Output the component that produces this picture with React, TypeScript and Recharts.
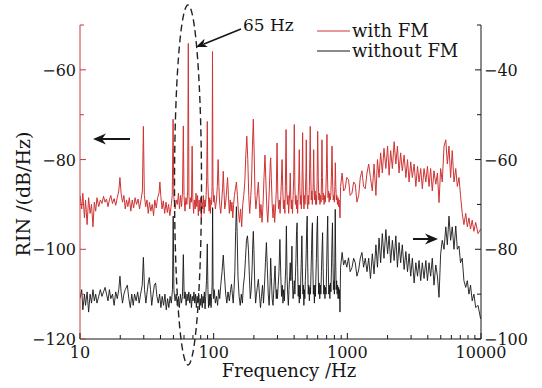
import React from 'react';
import { LineChart, Line, XAxis, YAxis } from 'recharts';

// RIN spectra: [frequency Hz, RIN]
// with FM -> left axis (dB/Hz), without FM -> right axis
const withFmSpectrum: [number, number][] = [
  [10, -88], [10.3, -91], [10.5, -87.5], [10.8, -93], [11, -89], [11.3, -94.5], [11.6, -88.5], [11.9, -92],
  [12.2, -90], [12.5, -95], [12.8, -89.5], [13.1, -91.5], [13.4, -88.5], [13.8, -90.5], [14.2, -89], [14.6, -89.8],
  [15, -88.2], [15.4, -89.5], [15.8, -88.8], [16.2, -90.5], [16.6, -89], [17, -88], [17.5, -89.8], [18, -88.7],
  [18.5, -90.2], [19, -88.5], [19.5, -87], [19.9, -84], [20.3, -87.5], [20.8, -89.5], [21.3, -88], [21.8, -91],
  [22.3, -89], [22.8, -90.5], [23.4, -88.5], [24, -91.5], [24.6, -89], [25.2, -90.8], [25.8, -88.5], [26.5, -90],
  [27.2, -88.8], [27.9, -91], [28.6, -89], [29.3, -87], [29.8, -72.6], [30.3, -88], [31, -90.5], [31.7, -89],
  [32.4, -92], [33.1, -89.5], [33.9, -91.5], [34.7, -90], [35.5, -92.5], [36.3, -89], [37.2, -90.8], [38.1, -88.5],
  [39, -87.5], [39.6, -85], [40.2, -88], [41.1, -91], [42, -89.2], [43, -92], [44, -89.5], [45, -91.8],
  [46, -90], [47, -92.5], [48, -90.5], [49, -88], [49.7, -71], [50.4, -88.5], [51.5, -91], [52.5, -89],
  [53.5, -90], [54.5, -87.5], [55.5, -91], [56.5, -88], [57.5, -90.5], [58.5, -87], [59.3, -72.5], [60, -88],
  [61, -91.5], [62, -88.5], [63, -90], [63.9, -87], [64.6, -54.1], [65.3, -88], [66.2, -91], [67.2, -88.5],
  [68.2, -89.5], [69, -77], [69.8, -88.5], [70.8, -92], [71.8, -89], [72.8, -91], [73.8, -87.5], [74.8, -90.5],
  [75.8, -88], [76.8, -92.5], [77.8, -89], [78.8, -91.5], [79.8, -88.5], [80.8, -93], [81.8, -89.5], [82.8, -91],
  [83.8, -88], [84.8, -92], [85.8, -89], [86.8, -90.5], [87.8, -88], [88.7, -84], [89.6, -71.5], [90.5, -85],
  [91.5, -89], [92.5, -91.5], [93.5, -88.5], [94.5, -92], [95.5, -89], [96.5, -90], [97.3, -86], [98, -55.9],
  [98.8, -86], [100, -89.5], [101, -88], [103, -91], [105, -89], [106.5, -86], [108, -80], [109.5, -86],
  [111, -90], [113, -92], [115, -89], [116.5, -86.5], [118, -82.6], [119.5, -87], [121, -91], [123, -89.5],
  [125, -87], [127, -84], [129, -88], [131, -92], [133, -89], [135, -91.5], [137, -89.5], [139, -93],
  [141, -90], [143, -88], [145.5, -86.5], [148, -85], [150.5, -88], [153, -91.5], [156, -94], [159, -91],
  [162, -95], [165, -90], [168, -88], [171, -85], [174, -79], [177, -74.8], [180, -80], [183, -88],
  [186, -92], [189, -89], [192, -85], [195, -77], [198, -71], [201, -79], [204, -88], [207, -91],
  [210, -89], [213, -87], [216, -85], [219, -89], [222, -93], [226, -90], [230, -94], [234, -90],
  [238, -84], [242, -79], [246, -85], [250, -91], [254, -94], [258, -90], [262, -85], [265, -81],
  [267, -79.6], [270, -84], [274, -90], [278, -93], [282, -90], [286, -94], [290, -91], [294, -87],
  [298, -76.3], [302, -88], [306, -91], [310, -89], [314, -92], [318, -88], [321, -85], [325, -80],
  [329, -87], [333, -91], [337, -89], [341, -92], [344, -86], [348, -73.3], [352, -87], [356, -90],
  [360, -88], [364, -92], [368, -89], [371, -87], [374, -83], [377, -88], [381, -91], [385, -89],
  [389, -92], [393, -88], [397, -84], [401, -72.2], [405, -86], [409, -90], [413, -88], [417, -91],
  [421, -89], [425, -92], [429, -88], [433, -85], [437, -77.8], [441, -86], [445, -90], [449, -88],
  [453, -91], [457, -87], [460, -82], [463, -74], [466, -83], [470, -89], [474, -91], [478, -88],
  [482, -90], [486, -87], [490, -83], [493, -75.6], [496, -84], [500, -89], [505, -91], [510, -88],
  [515, -90], [520, -86], [524, -80], [528, -72.6], [532, -82], [537, -89], [542, -87], [547, -90],
  [552, -88], [556, -85], [560, -77.8], [564, -85], [569, -89], [574, -87], [579, -90], [584, -88],
  [589, -90], [594, -85], [600, -73.7], [606, -84], [612, -89], [618, -87.5], [624, -90], [630, -88],
  [636, -89.5], [641, -84], [646, -75.6], [651, -84], [657, -89], [663, -87.5], [670, -90], [677, -88],
  [684, -89.5], [691, -87], [698, -82], [704, -74.4], [710, -83], [717, -88.5], [724, -87], [731, -89.5],
  [738, -87.5], [745, -89], [752, -88], [760, -84], [768, -77], [776, -85], [784, -89], [792, -88],
  [800, -89.5], [807, -86], [813, -80.7], [820, -86], [828, -89], [836, -88], [844, -90], [852, -88.5],
  [860, -90.5], [868, -89], [876, -91], [882, -93], [890, -86], [914, -83], [938, -87], [963, -86.5],
  [990, -84], [1021, -84.5], [1050, -88], [1083, -87.5], [1115, -85], [1146, -85.5], [1180, -89.5], [1216, -88],
  [1250, -84], [1286, -82.5], [1323, -86], [1362, -86.5], [1403, -83], [1445, -81], [1490, -84], [1538, -87],
  [1585, -81], [1636, -88], [1680, -80], [1727, -84], [1775, -78.5], [1827, -83], [1880, -77.5], [1942, -82],
  [2000, -77], [2054, -83.5], [2110, -78], [2173, -82], [2240, -76], [2306, -81], [2370, -77], [2437, -83],
  [2505, -78.5], [2578, -82.5], [2660, -79], [2741, -84], [2820, -80], [2897, -85], [2980, -80.5], [3064, -84],
  [3160, -81], [3255, -86], [3350, -81.5], [3440, -85], [3540, -82], [3640, -86.5], [3750, -82], [3866, -85],
  [3975, -81.5], [4086, -86], [4200, -82], [4321, -87], [4450, -82.5], [4590, -85.5], [4720, -83], [4852, -89.6],
  [4990, -82], [5131, -85], [5290, -77], [5452, -75.6], [5600, -81], [5762, -77], [5925, -84], [6094, -78],
  [6280, -85], [6474, -82], [6650, -86], [6843, -84], [7030, -88], [7236, -92], [7450, -94.5], [7687, -92],
  [7900, -95], [8125, -93], [8350, -95.5], [8592, -93.5], [8850, -96], [9127, -94], [9500, -96.5], [9935, -95.5],
];

const withoutFmSpectrum: [number, number][] = [
  [10, -91], [10.3, -89], [10.5, -93.5], [10.8, -90], [11, -92.5], [11.3, -89.5], [11.6, -94], [11.9, -90],
  [12.2, -92], [12.5, -89], [12.8, -91.5], [13.1, -90], [13.4, -92], [13.8, -90.5], [14.2, -89], [14.6, -90.5],
  [15, -89.5], [15.4, -88.5], [15.8, -90], [16.2, -91.5], [16.6, -89], [17, -91], [17.5, -90], [18, -92.5],
  [18.5, -89.5], [19, -91], [19.5, -89], [19.9, -86], [20.3, -89.5], [20.8, -92], [21.3, -90], [21.8, -89],
  [22.6, -88], [23.2, -91], [23.8, -93], [24.4, -90], [25, -92.5], [25.6, -90], [26.3, -91.5], [27, -89.5],
  [27.7, -92], [28.4, -90], [29.2, -88], [29.8, -81.8], [30.4, -89], [31.1, -92], [31.8, -89.5], [32.4, -87.5],
  [33, -86.3], [33.7, -89], [34.4, -92.5], [35.2, -90], [36, -88], [36.8, -87.5], [37.6, -90.5], [38.5, -92],
  [39.4, -90], [40.3, -93], [41.2, -90.5], [42.2, -92.5], [43.2, -90], [44.2, -93.5], [45.2, -91], [46.2, -93],
  [47.2, -90.5], [48.2, -92], [49.2, -89], [49.8, -72.6], [50.4, -89], [51.4, -91.5], [52.4, -90], [53.4, -92.5],
  [54.4, -90.5], [55.4, -93], [56.4, -90], [57.4, -92], [58.4, -90.5], [59.3, -81.2], [60.2, -91], [61.2, -89.5],
  [62.2, -92.5], [63.2, -90], [64.2, -91.5], [65.2, -89.5], [66.2, -92], [67.2, -90], [68.2, -93], [69.2, -90.5],
  [70.2, -91.5], [71.2, -89.5], [72.2, -92], [73.2, -90], [74.2, -93], [75.2, -90.5], [76.2, -92], [77.2, -89.8],
  [78.2, -93.5], [79.2, -91], [80.2, -92.5], [81.2, -90], [82.2, -93], [83.2, -90.5], [84.2, -92], [85.2, -89.5],
  [86.2, -93.3], [87.2, -90.5], [88.4, -87], [89.6, -78.8], [90.6, -89], [91.6, -93], [92.6, -90], [93.6, -92.5],
  [94.6, -90], [95.6, -93], [96.6, -90.5], [97.4, -88], [98.2, -70.7], [99, -88.5], [100, -91], [101, -89],
  [103, -92], [105, -90.5], [107, -92.5], [109, -89], [111, -91], [113, -88], [115.5, -85], [118, -81.3],
  [120.5, -86], [123, -90], [125.5, -92], [128, -89.5], [131, -91.5], [134, -89], [136, -87.8], [138, -90],
  [140, -92], [142, -89], [144, -85], [146, -76], [148, -70.5], [150, -77], [152, -86], [155, -90.5],
  [158, -92.5], [161, -90], [164, -92], [167, -88], [170, -86], [173, -82], [176, -78], [179, -77],
  [182, -80], [185, -86], [188, -91], [191, -89], [194, -84], [196, -79], [198, -76], [200, -80],
  [203, -88], [206, -92], [209, -90], [212, -88.5], [216, -86.7], [220, -90], [224, -93], [228, -90.5],
  [232, -88], [236, -92], [240, -88], [244, -83], [248, -78.5], [252, -84], [256, -90], [260, -92.5],
  [264, -88], [267, -82], [270, -86], [274, -91], [278, -92.5], [282, -89], [285, -86], [288, -83.7],
  [291, -88], [294, -91], [297, -89], [300, -91], [304, -88], [308, -85], [313, -77.8], [318, -86],
  [322, -90.5], [326, -88], [330, -92], [334, -89], [338, -91.5], [342, -88], [346, -84], [350, -74.8],
  [354, -86], [358, -90], [362, -92.5], [366, -89], [370, -86], [374, -83], [378, -87], [382, -84],
  [385, -79.3], [389, -88], [393, -91], [397, -89], [401, -87], [405, -90], [409, -86], [413, -82],
  [417, -76], [421, -74.1], [425, -84], [429, -90.5], [433, -88], [437, -92], [441, -88], [445, -91],
  [449, -86], [453, -82], [457, -77], [461, -84], [465, -90], [469, -88], [473, -92.5], [477, -89],
  [481, -91], [485, -87], [489, -84], [493, -80], [497, -75], [501, -72.6], [505, -83], [510, -90],
  [515, -88], [520, -91.5], [525, -88.5], [530, -90], [535, -85], [540, -80], [544, -76], [548, -74.1],
  [552, -84], [557, -90], [562, -88], [567, -92], [572, -88], [577, -90.5], [582, -86], [587, -82],
  [592, -76], [598, -72.6], [604, -83], [610, -90], [616, -87.5], [622, -91], [628, -88], [634, -90],
  [640, -85], [647, -80], [653, -76.3], [659, -84], [666, -90], [673, -88], [680, -91], [687, -88.5],
  [694, -90], [700, -84], [706, -78], [713, -72.6], [719, -82], [726, -90], [733, -88], [740, -91],
  [747, -87.5], [754, -89.5], [761, -84], [768, -78], [774, -74.1], [780, -82], [787, -89], [794, -87],
  [800, -90], [806, -83], [812, -71.1], [818, -82], [825, -89], [832, -87], [839, -90], [846, -88],
  [853, -91], [860, -88.5], [867, -91], [874, -89], [881, -94], [890, -84], [914, -80.7], [938, -83.5],
  [963, -82.4], [990, -84], [1021, -81.9], [1050, -85], [1083, -84.1], [1115, -82], [1146, -83], [1180, -86],
  [1216, -84.6], [1250, -82], [1286, -80.7], [1323, -84], [1362, -82], [1403, -85], [1445, -82], [1490, -86.5],
  [1538, -81], [1585, -85.5], [1636, -79], [1680, -84], [1727, -77.5], [1775, -83], [1827, -76.5], [1880, -82],
  [1942, -75.6], [2000, -81], [2054, -77], [2110, -83], [2173, -78], [2240, -82.5], [2306, -77], [2370, -84],
  [2437, -78.5], [2505, -83], [2578, -79], [2660, -84.5], [2741, -80.5], [2820, -85], [2897, -81], [2980, -86],
  [3064, -82], [3160, -87.5], [3255, -83], [3350, -86], [3440, -82.5], [3540, -87], [3640, -83], [3750, -86.5],
  [3866, -82.5], [3975, -87], [4086, -83], [4200, -86], [4321, -82], [4450, -88], [4590, -83.5], [4720, -86],
  [4852, -90.7], [4990, -81], [5131, -78], [5290, -80], [5452, -75], [5600, -79], [5762, -72.6], [5925, -78],
  [6094, -75], [6280, -80], [6474, -74.8], [6650, -80], [6843, -79.3], [7030, -83], [7236, -82], [7450, -87],
  [7687, -88.5], [7900, -87], [8125, -90], [8350, -88], [8592, -91.5], [8850, -90], [9127, -93], [9500, -92.5],
  [9935, -95.5],
];

const xTicks = [
  10, 20, 30, 40, 50, 60, 70, 80, 90,
  100, 200, 300, 400, 500, 600, 700, 800, 900,
  1000, 2000, 3000, 4000, 5000, 6000, 7000, 8000, 9000, 10000,
];
const xLabels = [10, 100, 1000, 10000];
const leftTicks = [-120, -110, -100, -90, -80, -70, -60, -50];
const leftLabels = [-120, -100, -80, -60];
const rightTicks = [-100, -90, -80, -70, -60, -50, -40, -30];
const rightLabels = [-100, -80, -60, -40];

const FONT = '"DejaVu Serif", serif';
const RED = '#cf3434';
const AXIS_RED = '#c43c3c';
const INK = '#161616';

const fmtNeg = (v: number) => (v < 0 ? '\u2212' + Math.abs(v) : String(v));

const XTick = (props: any) => {
  const { x, y, payload } = props;
  const major = xLabels.includes(payload.value);
  return (
    <g>
      <line x1={x} x2={x} y1={y} y2={y - (major ? 6 : 4)} stroke={INK} strokeWidth={1} />
      {major && (
        <text x={x} y={y + 19} textAnchor="middle" fontFamily={FONT} fontSize={16} fill={INK}>
          {payload.value}
        </text>
      )}
    </g>
  );
};

const LeftTick = (props: any) => {
  const { x, y, payload } = props;
  const major = leftLabels.includes(payload.value);
  return (
    <g>
      <line x1={x} x2={x + (major ? 6 : 4)} y1={y} y2={y} stroke={AXIS_RED} strokeWidth={1} />
      {major && (
        <text x={x - 4} y={y + 6} textAnchor="end" fontFamily={FONT} fontSize={16} fill={INK}>
          {fmtNeg(payload.value)}
        </text>
      )}
    </g>
  );
};

const RightTick = (props: any) => {
  const { x, y, payload } = props;
  const major = rightLabels.includes(payload.value);
  return (
    <g>
      <line x1={x} x2={x - (major ? 6 : 4)} y1={y} y2={y} stroke={INK} strokeWidth={1} />
      {major && (
        <text x={x + 3} y={y + 6} textAnchor="start" fontFamily={FONT} fontSize={16} fill={INK}>
          {fmtNeg(payload.value)}
        </text>
      )}
    </g>
  );
};

const toRows = (pts: [number, number][]) => pts.map(([f, rin]) => ({ f, rin }));

export default function App() {
  return (
    <div style={{ position: 'absolute', left: 0, top: 0, width: 542, height: 388, background: '#fff' }}>
      <LineChart width={542} height={388} margin={{ top: 25, right: 6, bottom: 19, left: 20 }}>
        <XAxis
          dataKey="f"
          type="number"
          scale="log"
          domain={[10, 10000]}
          allowDataOverflow
          ticks={xTicks}
          interval={0}
          tickSize={0}
          tickMargin={0}
          tickLine={false}
          tick={<XTick />}
          height={30}
          axisLine={{ stroke: INK }}
        />
        <YAxis
          yAxisId="left"
          type="number"
          domain={[-120, -50]}
          allowDataOverflow
          ticks={leftTicks}
          interval={0}
          tickSize={0}
          tickMargin={0}
          tickLine={false}
          tick={<LeftTick />}
          width={60}
          axisLine={{ stroke: AXIS_RED }}
        />
        <YAxis
          yAxisId="right"
          orientation="right"
          type="number"
          domain={[-100, -30]}
          allowDataOverflow
          ticks={rightTicks}
          interval={0}
          tickSize={0}
          tickMargin={0}
          tickLine={false}
          tick={<RightTick />}
          width={55}
          axisLine={{ stroke: INK }}
        />
        <Line
          yAxisId="left"
          data={toRows(withFmSpectrum)}
          dataKey="rin"
          type="linear"
          stroke={RED}
          strokeWidth={1}
          dot={false}
          isAnimationActive={false}
        />
        <Line
          yAxisId="right"
          data={toRows(withoutFmSpectrum)}
          dataKey="rin"
          type="linear"
          stroke={INK}
          strokeWidth={0.9}
          dot={false}
          isAnimationActive={false}
        />
      </LineChart>
      <svg
        width={542}
        height={388}
        style={{ position: 'absolute', left: 0, top: 0, pointerEvents: 'none' }}
        fontFamily={FONT}
      >
        {/* legend */}
        <line x1={317} x2={350} y1={31} y2={31} stroke={RED} strokeWidth={1} />
        <text x={352} y={37} fontSize={18} fill={INK}>with FM</text>
        <line x1={317} x2={350} y1={51} y2={51} stroke={INK} strokeWidth={1} />
        <text x={352} y={57} fontSize={18} fill={INK}>without FM</text>

        {/* dashed ellipse around the 50-100 Hz lines */}
        <ellipse cx={188} cy={185} rx={13.5} ry={180} fill="none" stroke="#222" strokeWidth={1.4} strokeDasharray="7 4" />
        <text x={243} y={31} fontSize={17} fill={INK}>65 Hz</text>
        <line x1={241} y1={29} x2={204} y2={44} stroke={INK} strokeWidth={1.6} />
        <path d="M196,47 L207.9,47.1 L203.4,44 L204.5,38.7 Z" fill={INK} />

        {/* axis arrows */}
        <line x1={102} x2={130} y1={139} y2={139} stroke={INK} strokeWidth={2} />
        <path d="M93,139 L106,133.5 L102,139 L106,144.5 Z" fill={INK} />
        <line x1={413} x2={430} y1={239} y2={239} stroke={INK} strokeWidth={2} />
        <path d="M438,239 L425,233.5 L429,239 L425,244.5 Z" fill={INK} />

        {/* axis titles */}
        <text
          x={0}
          y={0}
          transform="translate(30,194) rotate(-90)"
          textAnchor="middle"
          fontSize={19}
          fill={INK}
        >
          RIN /(dB/Hz)
        </text>
        <text x={289} y={377} textAnchor="middle" fontSize={18} fill={INK}>Frequency /Hz</text>
      </svg>
    </div>
  );
}
